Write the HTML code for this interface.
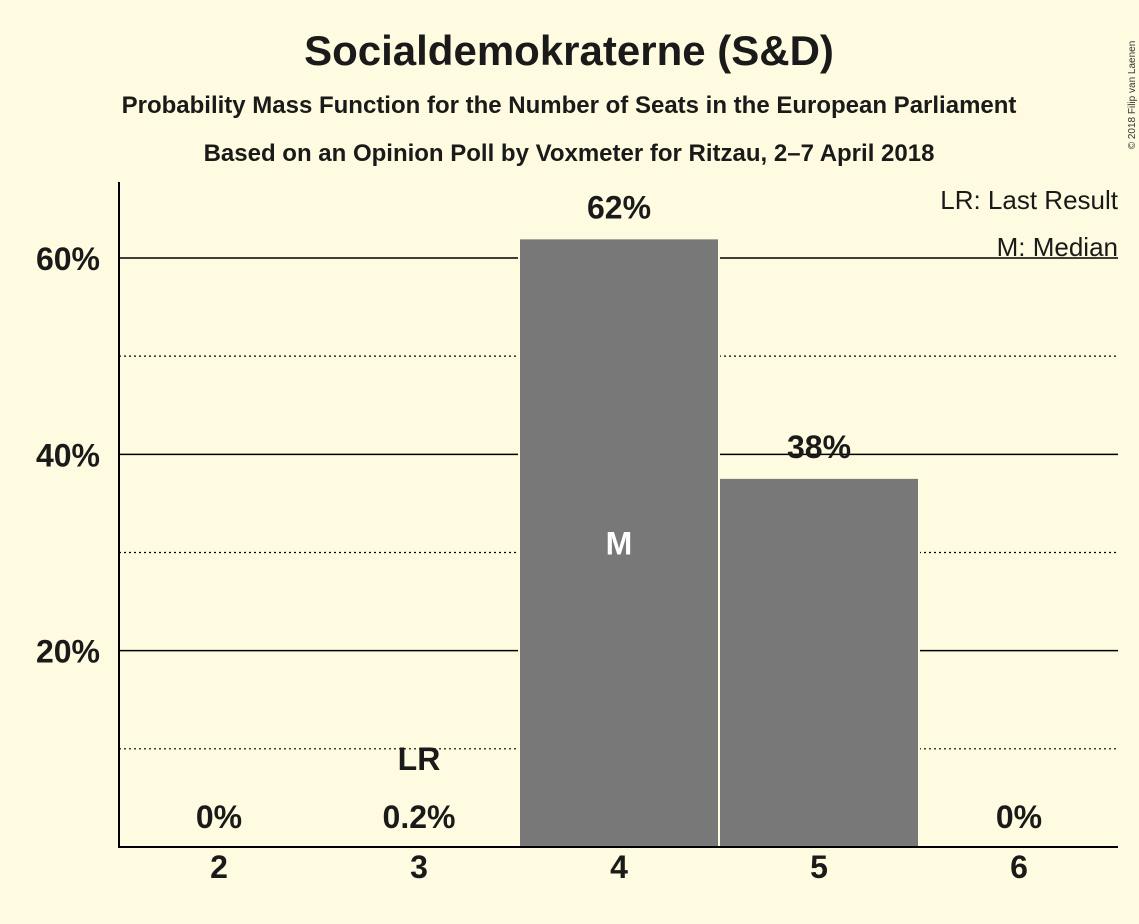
<!DOCTYPE html>
<html><head><meta charset="utf-8"><style>
body{margin:0;background:#fffbe0;}
svg{display:block;font-family:"Liberation Sans",sans-serif;font-weight:bold;}
</style></head><body>
<svg id="c" width="1139" height="924" viewBox="0 0 1139 924">
<rect width="1139" height="924" fill="#fffbe0"/>
<text x="569" y="65" font-size="42" text-anchor="middle" fill="#1a1a1a">Socialdemokraterne (S&amp;D)</text>
<text x="569" y="113" font-size="24" text-anchor="middle" fill="#1a1a1a">Probability Mass Function for the Number of Seats in the European Parliament</text>
<text x="569" y="161" font-size="24" text-anchor="middle" fill="#1a1a1a">Based on an Opinion Poll by Voxmeter for Ritzau, 2–7 April 2018</text>
<text x="1135" y="95" font-size="10" font-weight="normal" fill="#333" transform="rotate(-90 1135 95)" text-anchor="middle">© 2018 Filip van Laenen</text>
<g id="grid"></g>
<g id="bars"></g>
<g id="labels"></g>
<line x1="119" y1="182" x2="119" y2="848" stroke="#000" stroke-width="2"/>
<line x1="118" y1="847" x2="1118" y2="847" stroke="#000" stroke-width="2"/>
<text x="1118" y="209" font-size="26" font-weight="normal" text-anchor="end" fill="#1a1a1a">LR: Last Result</text>
<text x="1118" y="256" font-size="26" font-weight="normal" text-anchor="end" fill="#1a1a1a">M: Median</text>
</svg>
<script>
const seats=[2,3,4,5,6];
const probs=[0,0.2,62,37.6,0];
const valueLabels=["0%","0.2%","62%","38%","0%"];
const yTicks=[20,40,60];
const yMinor=[10,30,50];
const lastResult=3;
const median=4;
const NS="http://www.w3.org/2000/svg";
const y=v=>847-v*9.817;
const x=s=>219+(s-2)*200;
function mk(tag,attrs,parent,text){const e=document.createElementNS(NS,tag);for(const k in attrs)e.setAttribute(k,attrs[k]);if(text!==undefined)e.textContent=text;document.getElementById(parent).appendChild(e);return e;}
yMinor.forEach(v=>{const l=mk('line',{x1:119,x2:1118,y1:y(v),y2:y(v),stroke:'#000','stroke-width':1.2,'stroke-dasharray':'2,3'},'grid');

});
yTicks.forEach(v=>{const l=mk('line',{x1:119,x2:1118,y1:y(v),y2:y(v),stroke:'#000','stroke-width':1.5},'grid');


const t=mk('text',{x:100,y:y(v)+12,'font-size':32,'text-anchor':'end',fill:'#1a1a1a'},'labels',v+'%');

});
seats.forEach((s,i)=>{
const p=probs[i];
if(p>0){const r=mk('rect',{x:x(s)-100,y:y(p),width:200,height:847-y(p),fill:'#787878',stroke:'#fffbe0','stroke-width':2},'bars');

}
const t=mk('text',{x:x(s),y:878,'font-size':32,'text-anchor':'middle',fill:'#1a1a1a'},'labels',String(s));


const vy=p>5?y(p)-20:828;
const vl=mk('text',{x:x(s),y:vy,'font-size':32,'text-anchor':'middle',fill:'#1a1a1a'},'labels',valueLabels[i]);


if(s===lastResult){const lr=mk('text',{x:x(s),y:770,'font-size':32,'text-anchor':'middle',fill:'#1a1a1a'},'labels','LR');

}
if(s===median){const m=mk('text',{x:x(s),y:(y(p)+847)/2+12,'font-size':32,'text-anchor':'middle',fill:'#fff'},'labels','M');

}
});
</script>
</body></html>
